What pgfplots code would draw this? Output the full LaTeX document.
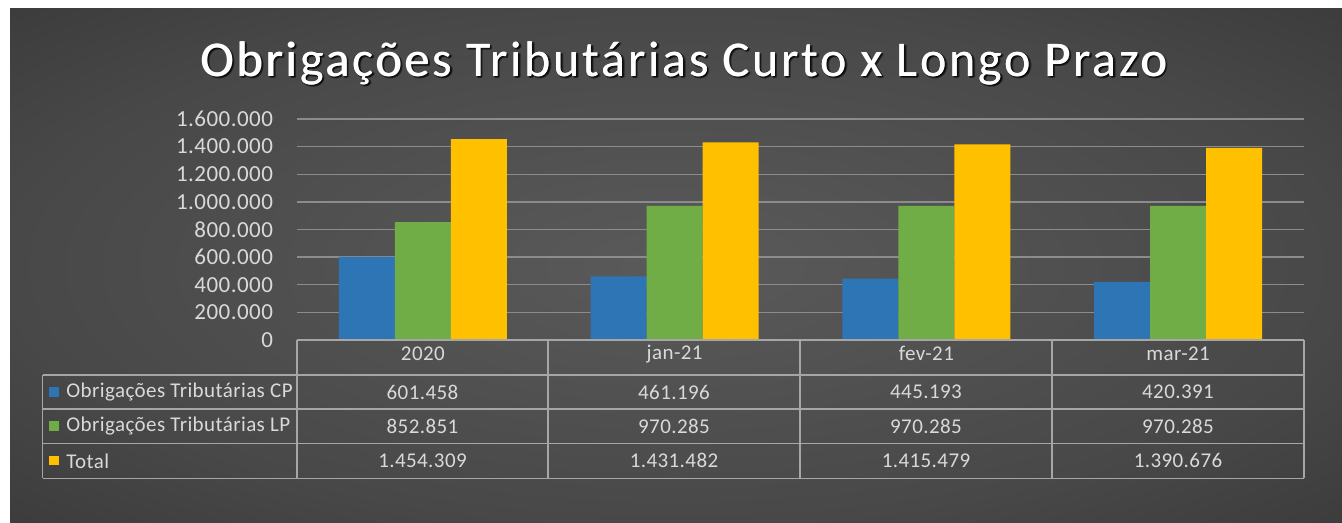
\documentclass[border=0pt]{standalone}
\usepackage{pgfplots}
\pgfplotsset{compat=1.18}
\usepackage{fontspec}
\setmainfont{Carlito}
\definecolor{cpblue}{HTML}{2E75B6}
\definecolor{lpgreen}{HTML}{70AD47}
\definecolor{totyellow}{HTML}{FFC000}
\definecolor{bgin}{HTML}{5A5A5A}
\definecolor{bgmid}{HTML}{484848}
\definecolor{bgout}{HTML}{2C2C2C}
\definecolor{bgcorner}{HTML}{222222}
\definecolor{gridc}{HTML}{8C8C8C}
\definecolor{tablec}{HTML}{A6A6A6}
\definecolor{txtc}{HTML}{D9D9D9}
\pgfdeclareradialshading{bgshade}{\pgfpoint{0bp}{0bp}}{color(0bp)=(bgin); color(25bp)=(bgmid); color(50bp)=(bgout); color(72bp)=(bgcorner)}

\pgfplotstableread{
x CP LP Total
0 601458 852851 1454309
1 461196 970285 1431482
2 445193 970285 1415479
3 420391 970285 1390676
}\datatab

\newcommand\titlefont{\fontsize{25}{30}\selectfont\addfontfeatures{LetterSpace=5.5}}
\newcommand\tabfont{\fontsize{10.5}{12}\selectfont\addfontfeatures{LetterSpace=2}}

\begin{document}
\begin{tikzpicture}
\useasboundingbox (0,0) rectangle (671pt,261.5pt);
\fill[white] (0,0) rectangle (671pt,261.5pt);
\shade[shading=bgshade] (5pt,0) rectangle (671pt,257pt);
% title with soft shadow
\foreach \dx/\dy in {1.2/-1.2,0.6/-1.4,1.4/-0.6,0.9/-0.9} {
  \node[text=black, opacity=0.35, font=\titlefont] at (342pt+\dx pt,230pt+\dy pt) {Obrigações Tributárias Curto x Longo Prazo};
}
\node[text=white, font=\titlefont] at (342pt,230pt) {Obrigações Tributárias Curto x Longo Prazo};
\node[text=white, font=\titlefont] at (342.25pt,230pt) {Obrigações Tributárias Curto x Longo Prazo};
\begin{axis}[
  at={(148.5pt,91.5pt)}, anchor=south west,
  scale only axis, width=503.5pt, height=110.5pt,
  xmin=-0.5, xmax=3.5, ymin=0, ymax=1600000,
  ybar=0pt, bar width=28pt,
  axis line style={draw=none},
  major tick length=0pt,
  ymajorgrids, grid style={gridc, line width=0.7pt},
  ytick={0,200000,...,1600000},
  scaled y ticks=false,
  yticklabel style={text=txtc, font=\fontsize{11.5}{13}\selectfont\addfontfeatures{LetterSpace=2}, xshift=-8.5pt,
    /pgf/number format/.cd, fixed, 1000 sep={.}, assume math mode=true},
  xtick={0,1,2,3},
  xticklabels={2020,jan-21,fev-21,mar-21},
  xticklabel style={text=txtc, font=\tabfont, anchor=center, yshift=-6.8pt},
  clip=false,
]
\addplot[fill=cpblue, draw=none] table[x=x, y=CP] {\datatab};
\addplot[fill=lpgreen, draw=none] table[x=x, y=LP] {\datatab};
\addplot[fill=totyellow, draw=none] table[x=x, y=Total] {\datatab};
\end{axis}
% data table lines
\begin{scope}[draw=tablec, line width=0.7pt]
\draw (148.5pt,91.5pt) -- (652pt,91.5pt);
\draw (21.35pt,74pt) -- (652pt,74pt);
\draw (21.35pt,57pt) -- (652pt,57pt);
\draw (21.35pt,39.85pt) -- (652pt,39.85pt);
\draw (21.35pt,22.35pt) -- (652pt,22.35pt);
\draw (21.35pt,74pt) -- (21.35pt,22.35pt);
\foreach \xx in {148.5,274,400,526,652} {\draw (\xx pt,91.5pt) -- (\xx pt,22.35pt);}
\end{scope}
% legend keys and row labels
\begin{scope}[font=\tabfont, text=txtc]
\fill[cpblue] (24.5pt,63.2pt) rectangle (29.3pt,68pt);
\fill[lpgreen] (24.5pt,46.1pt) rectangle (29.3pt,50.9pt);
\fill[totyellow] (24.5pt,28.8pt) rectangle (29.3pt,33.6pt);
\node[anchor=west, inner sep=0pt] at (33pt,65.5pt) {Obrigações Tributárias CP};
\node[anchor=west, inner sep=0pt] at (33pt,48.4pt) {Obrigações Tributárias LP};
\node[anchor=west, inner sep=0pt] at (33pt,31.1pt) {Total};
\node at (211.25pt,65.5pt) {601.458};
\node at (337pt,65.5pt) {461.196};
\node at (463pt,65.5pt) {445.193};
\node at (589pt,65.5pt) {420.391};
\node at (211.25pt,48.4pt) {852.851};
\node at (337pt,48.4pt) {970.285};
\node at (463pt,48.4pt) {970.285};
\node at (589pt,48.4pt) {970.285};
\node at (211.25pt,31.1pt) {1.454.309};
\node at (337pt,31.1pt) {1.431.482};
\node at (463pt,31.1pt) {1.415.479};
\node at (589pt,31.1pt) {1.390.676};
\end{scope}
\end{tikzpicture}
\end{document}
